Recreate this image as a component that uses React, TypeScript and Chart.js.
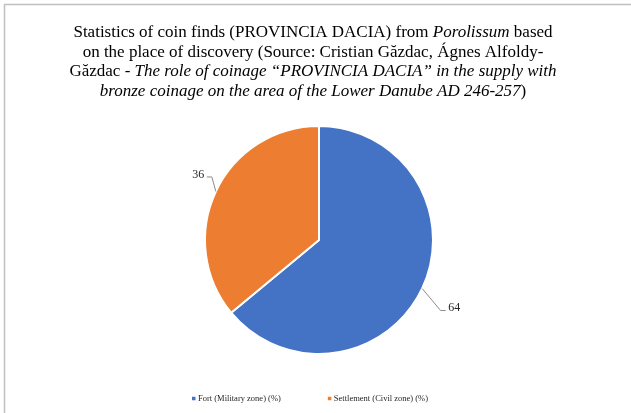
import React, { useEffect, useRef } from 'react';
import { Chart, registerables } from 'chart.js';

Chart.register(...registerables);

const categories = ['Fort (Military zone) (%)', 'Settlement (Civil zone) (%)'];
const values = [64, 36];
const sliceColors = ['#4472C4', '#ED7D31'];

// title lines as [text, italic] segments
const titleLine1: [string, boolean][] = [
  ['Statistics of coin finds (PROVINCIA DACIA) from ', false],
  ['Porolissum', true],
  [' based', false],
];
const titleLine2: [string, boolean][] = [
  ['on the place of discovery (Source: Cristian Găzdac, Ágnes Alfoldy-', false],
];
const titleLine3: [string, boolean][] = [
  ['Găzdac - ', false],
  ['The role of coinage \u201CPROVINCIA DACIA\u201D in the supply with', true],
];
const titleLine4: [string, boolean][] = [
  ['bronze coinage on the area of the Lower Danube AD 246-257', true],
  [')', false],
];
const titleLines = [titleLine1, titleLine2, titleLine3, titleLine4];

const SERIF = '"Liberation Serif", "Times New Roman", serif';

const framePlugin = {
  id: 'frame',
  beforeDraw(chart: any) {
    const ctx = chart.ctx;
    ctx.save();
    ctx.fillStyle = '#ffffff';
    ctx.fillRect(0, 0, chart.width, chart.height);
    ctx.strokeStyle = '#c0c0c0';
    ctx.lineWidth = 1.5;
    ctx.beginPath();
    ctx.moveTo(4.5, chart.height);
    ctx.lineTo(4.5, 4.5);
    ctx.lineTo(chart.width, 4.5);
    ctx.stroke();
    ctx.restore();
  },
};

const richTitlePlugin = {
  id: 'richTitle',
  afterDraw(chart: any, _args: any, opts: any) {
    const ctx = chart.ctx;
    ctx.save();
    ctx.fillStyle = '#000000';
    ctx.textBaseline = 'alphabetic';
    const size = opts.size;
    const cx = opts.centerX;
    (opts.lines as [string, boolean][][]).forEach((segs, li) => {
      let total = 0;
      const widths = segs.map(([t, it]) => {
        ctx.font = `${it ? 'italic ' : ''}${size}px ${SERIF}`;
        const w = ctx.measureText(t).width;
        total += w;
        return w;
      });
      let x = cx - total / 2;
      const y = opts.firstBaseline + li * opts.lineHeight;
      segs.forEach(([t, it], i) => {
        ctx.font = `${it ? 'italic ' : ''}${size}px ${SERIF}`;
        ctx.textAlign = 'left';
        ctx.fillText(t, x, y);
        x += widths[i];
      });
    });
    ctx.restore();
  },
};

const pieLabelsPlugin = {
  id: 'pieLabels',
  afterDatasetsDraw(chart: any, _args: any, opts: any) {
    const ctx = chart.ctx;
    const meta = chart.getDatasetMeta(0);
    const ds = chart.data.datasets[0];
    ctx.save();
    meta.data.forEach((arc: any, i: number) => {
      const { x, y, startAngle, endAngle, outerRadius } = arc.getProps(
        ['x', 'y', 'startAngle', 'endAngle', 'outerRadius'],
        true
      );
      const mid = (startAngle + endAngle) / 2;
      const ex = x + Math.cos(mid) * outerRadius;
      const ey = y + Math.sin(mid) * outerRadius;
      const off = opts.offsets[i];
      const bx = ex + off[0];
      const by = ey + off[1];
      const side = Math.cos(mid) >= 0 ? 1 : -1;
      const hx = bx + side * 5;
      ctx.strokeStyle = '#8c8c8c';
      ctx.lineWidth = 1;
      ctx.beginPath();
      ctx.moveTo(ex, ey);
      ctx.lineTo(bx, by);
      ctx.lineTo(hx, by);
      ctx.stroke();
      ctx.fillStyle = '#262626';
      ctx.font = `12px ${SERIF}`;
      ctx.textBaseline = 'middle';
      ctx.textAlign = side > 0 ? 'left' : 'right';
      ctx.fillText(String(ds.data[i]), hx + side * 2.5, by - 2.5);
    });
    ctx.restore();
  },
};

const customLegendPlugin = {
  id: 'customLegend',
  afterDraw(chart: any, _args: any, opts: any) {
    const ctx = chart.ctx;
    const labels: string[] = chart.data.labels;
    const colors: string[] = chart.data.datasets[0].backgroundColor;
    ctx.save();
    ctx.font = `8.5px ${SERIF}`;
    ctx.textBaseline = 'middle';
    ctx.textAlign = 'left';
    const box = 3.5;
    const gap = 2.5;
    const itemGap = opts.itemGap;
    const widths = labels.map((l) => box + gap + ctx.measureText(l).width);
    const total = widths.reduce((a, b) => a + b, 0) + itemGap * (labels.length - 1);
    let x = opts.centerX - total / 2;
    const y = opts.y;
    labels.forEach((l, i) => {
      ctx.fillStyle = colors[i];
      ctx.fillRect(x, y - box / 2, box, box);
      ctx.fillStyle = '#262626';
      ctx.fillText(l, x + box + gap, y);
      x += widths[i] + itemGap;
    });
    ctx.restore();
  },
};

export default function App() {
  const canvasRef = useRef<HTMLCanvasElement | null>(null);

  useEffect(() => {
    document.body.style.margin = '0';
    const canvas = canvasRef.current;
    if (!canvas) return;
    const chart = new Chart(canvas, {
      type: 'pie',
      data: {
        labels: categories,
        datasets: [
          {
            data: values,
            backgroundColor: sliceColors,
            borderColor: '#ffffff',
            borderWidth: 2,
          },
        ],
      },
      options: {
        animation: false,
        responsive: false,
        maintainAspectRatio: false,
        devicePixelRatio: 1,
        layout: {
          padding: { left: 100, right: 93, top: 125, bottom: 58 },
        },
        plugins: {
          legend: { display: false },
          tooltip: { enabled: false },
          title: { display: false },
          richTitle: {
            lines: titleLines,
            size: 17,
            centerX: 313,
            firstBaseline: 37,
            lineHeight: 19.7,
          },
          pieLabels: {
            offsets: [
              [18.5, 22],
              [-4, -14.5],
            ],
          },
          customLegend: {
            centerX: 310,
            y: 398.5,
            itemGap: 47,
          },
        } as any,
      },
      plugins: [framePlugin, richTitlePlugin, pieLabelsPlugin, customLegendPlugin],
    });
    return () => chart.destroy();
  }, []);

  return (
    <div style={{ position: 'absolute', left: 0, top: 0, width: 631, height: 413 }}>
      <canvas ref={canvasRef} width={631} height={413} style={{ width: 631, height: 413, display: 'block' }} />
    </div>
  );
}
